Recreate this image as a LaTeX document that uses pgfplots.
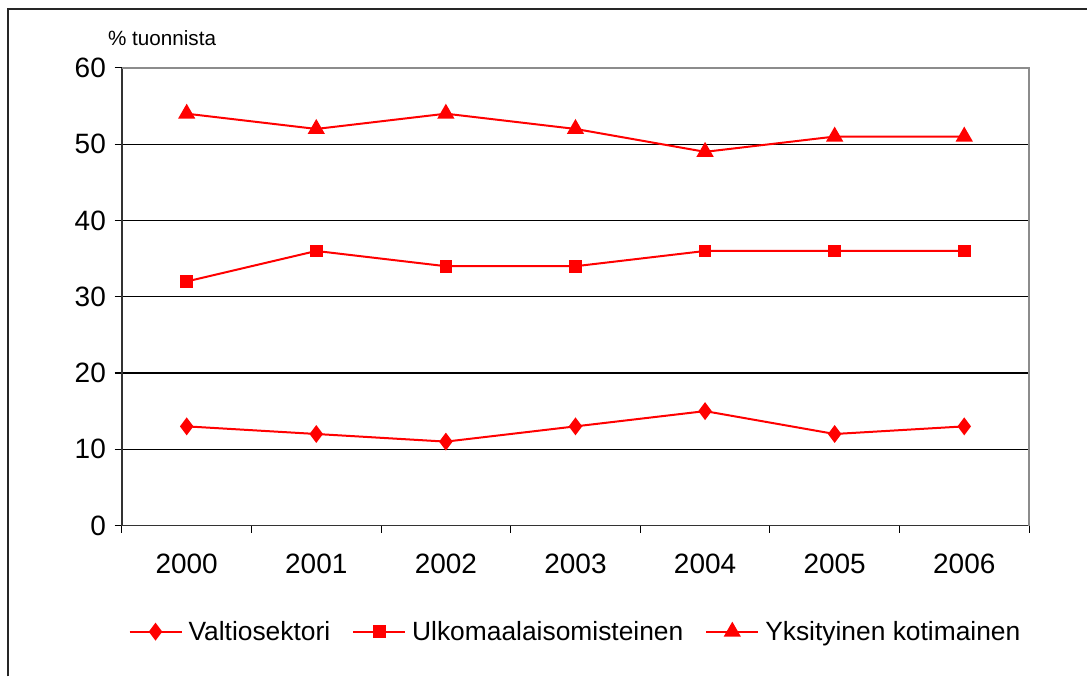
\documentclass[border=0pt]{standalone}
\usepackage{pgfplots}
\pgfplotsset{compat=1.18}
\usepackage{fontspec}
\setmainfont{Liberation Sans}

\begin{document}
\begin{tikzpicture}[x=0.75pt,y=0.75pt]
  % page size and outer frame
  \path (0,0) rectangle (1088,677);
  \draw[line width=1.5pt, black!85] (8,0) -- (8,668) -- (1088,668);
  \begin{axis}[
      at={(91.5pt,113.25pt)}, anchor=south west,
      scale only axis,
      width=681pt, height=343.5pt,
      xmin=-0.5, xmax=6.5,
      ymin=0, ymax=60,
      ytick={0,10,...,60},
      xtick={-0.5,0.5,...,6.5},
      xticklabels={},
      extra x ticks={0,...,6},
      extra x tick labels={2000,2001,2002,2003,2004,2005,2006},
      extra x tick style={major tick length=0pt, grid=none},
      x tick style={black, line width=0.8pt},
      y tick style={black, line width=0.8pt},
      xtick pos=bottom, ytick pos=left,
      major tick length=5.5pt,
      tick align=outside,
      ymajorgrids,
      grid style={black, line width=0.8pt},
      axis line style={draw=none},
      /pgf/number format/assume math mode=true,
      tick label style={font=\fontsize{21}{24}\selectfont},
      yticklabel style={xshift=-3pt},
      xticklabel style={yshift=-18pt},
      legend style={draw=none, at={(0.5,-0.232)}, anchor=center,
        font=\fontsize{19.8}{23}\selectfont, column sep=3pt,
        /tikz/every even column/.append style={column sep=15pt},
        inner sep=0pt, nodes={inner sep=1.5pt}},
      legend columns=3,
      legend image code/.code={
        \draw[#1, mark repeat=2, mark phase=2] plot coordinates {(0pt,0pt) (19.5pt,0pt) (39pt,0pt)};
      },
      clip=false,
    ]
    % plot frame: left/bottom black, top/right grey
    \draw[black!80, line width=1pt] (rel axis cs:0,1) -- (rel axis cs:0,0) -- (rel axis cs:1,0);
    \draw[black!45, line width=1.5pt] (rel axis cs:0,1) -- (rel axis cs:1,1) -- (rel axis cs:1,0);
    \addplot[red, line width=1.5pt, mark=diamond*, mark size=5.5pt, mark options={solid, fill=red}]
      coordinates {(0,13) (1,12) (2,11) (3,13) (4,15) (5,12) (6,13)};
    \addlegendentry{Valtiosektori}
    \addplot[red, line width=1.5pt, mark=square*, mark size=4pt, mark options={solid, fill=red}]
      coordinates {(0,32) (1,36) (2,34) (3,34) (4,36) (5,36) (6,36)};
    \addlegendentry{Ulkomaalaisomisteinen}
    \addplot[red, line width=1.5pt, mark=triangle*, mark size=6pt, mark options={solid, fill=red}]
      coordinates {(0,54) (1,52) (2,54) (3,52) (4,49) (5,51) (6,51)};
    \addlegendentry{Yksityinen kotimainen}
  \end{axis}
  \node[anchor=base west, inner sep=0pt, font=\fontsize{15.5}{18}\selectfont] at (108,631) {\% tuonnista};
\end{tikzpicture}
\end{document}
